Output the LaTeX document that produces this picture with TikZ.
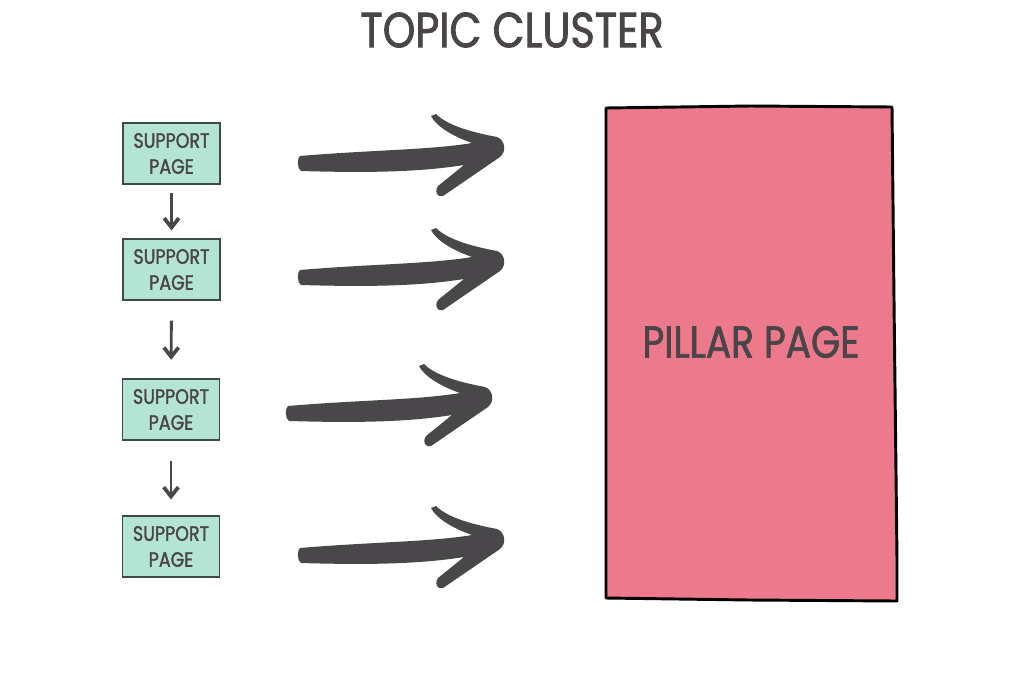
\documentclass[tikz,border=0pt]{standalone}
\usepackage{fontspec}
\setmainfont{Poppins}[FakeStretch=0.84,FakeBold=1.6]
\usetikzlibrary{arrows.meta}
\definecolor{ink}{HTML}{4A4549}
\definecolor{mint}{HTML}{B4E4D3}
\definecolor{mintline}{HTML}{3C4B45}
\definecolor{pillarfill}{HTML}{EC7A8C}
\definecolor{arrowgray}{HTML}{4A474B}
\tikzset{
  supportbox/.style={draw=mintline, line width=0.8pt, fill=mint, minimum width=72.75pt, minimum height=45.75pt, inner sep=0pt, align=center, text=ink, font=\fontsize{15.6}{19.5}\selectfont},
  smallarrow/.style={draw=arrowgray, line width=2.2pt, -{Straight Barb[length=7pt,width=11pt,line width=2.8pt]}},
  bigarrow/.pic={
    \fill[arrowgray] (300,156)
      .. controls (370,150) and (430,150) .. (472,143)
      .. controls (452,136) and (436,126) .. (431,116)
      -- (436,114)
      .. controls (447,125) and (470,132) .. (497,137)
      .. controls (505,140) and (507,151) .. (500,157)
      -- (443,196)
      .. controls (437,198) and (434,191) .. (438,186)
      -- (464,165)
      .. controls (420,172) and (370,173) .. (301,171)
      .. controls (297,169) and (297,158) .. cycle;
  }
}
\begin{document}
\begin{tikzpicture}[x=0.75pt,y=-0.75pt]
\useasboundingbox (0,0) rectangle (1024,683);
\fill[white] (0,0) rectangle (1024,683);

\node[text=ink, font=\fontsize{37}{40}\selectfont] (title) at (512,30) {TOPIC CLUSTER};

\node[supportbox] (s1) at (171.5,153.5) {SUPPORT\\PAGE};
\node[supportbox] (s2) at (171.5,269.5) {SUPPORT\\PAGE};
\node[supportbox] (s3) at (171,409.5) {SUPPORT\\PAGE};
\node[supportbox] (s4) at (171,546.5) {SUPPORT\\PAGE};

\draw[smallarrow, shorten <=6pt, shorten >=6pt] (s1) -- (s2);
\draw[smallarrow, shorten <=15pt, shorten >=14pt] (s2) -- (s3);
\draw[smallarrow, shorten <=15pt, shorten >=12pt] (s3) -- (s4);

\filldraw[fill=pillarfill, draw=black, line width=2.2pt, line join=round]
  (606,108) -- (750,106) -- (892,107) -- (894,300) -- (897,560) -- (897,601) -- (750,600) -- (606,598) -- cycle;
\node[text=ink, font=\fontsize{33.5}{36}\selectfont] (pillar) at (751,342) {PILLAR PAGE};

\pic at (0,0) {bigarrow};
\pic at (0,114) {bigarrow};
\pic at (-12,250) {bigarrow};
\pic at (0,392) {bigarrow};
\end{tikzpicture}
\end{document}
